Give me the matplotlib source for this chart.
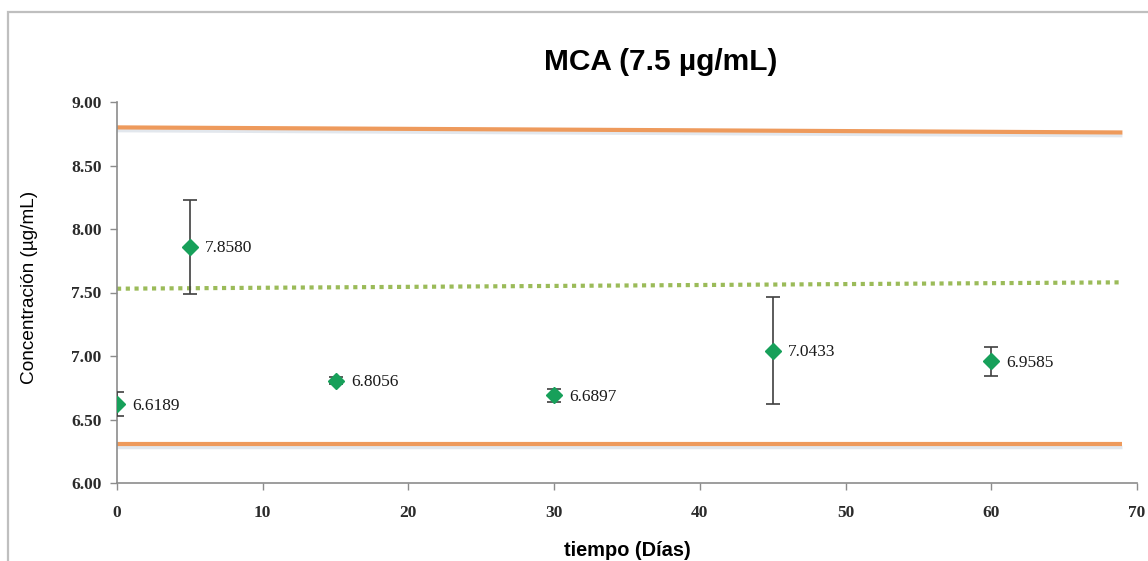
import numpy as np
import matplotlib
matplotlib.use("Agg")
from matplotlib import pyplot as plt
from matplotlib.patches import Rectangle

# days and mean concentration with std-dev
dias = [0, 5, 15, 30, 45, 60]
conc = [6.6189, 7.8580, 6.8056, 6.6897, 7.0433, 6.9585]
desv = [0.095, 0.37, 0.03, 0.05, 0.42, 0.115]

# control limits and trend line (start/end)
lim_x = [0, 69]
lim_sup = [8.80, 8.76]
lim_inf = [6.31, 6.31]
tendencia = [7.53, 7.58]

yticks = [6.00, 6.50, 7.00, 7.50, 8.00, 8.50, 9.00]
xticks = [0, 10, 20, 30, 40, 50, 60, 70]

fig = plt.figure(figsize=(11.48, 5.61), dpi=100)
ax = fig.add_axes([117/1148, 1-483/561, 1020/1148, 381/561])

fig.patches.append(Rectangle((8/1148, -0.1), 1.2, 1 - 12/561 + 0.1,
                             transform=fig.transFigure, fill=False,
                             edgecolor='#bfbfbf', lw=1.6, zorder=0))

naranja = '#ee9a5c'
for ys in (lim_sup, lim_inf):
    # faint shadow under the limit lines
    ax.plot(lim_x, [v - 0.025 for v in ys], color='#d7dde6', lw=2.5,
            alpha=0.7, solid_capstyle='butt', zorder=1)
    ax.plot(lim_x, ys, color=naranja, lw=3, solid_capstyle='butt', zorder=2)

ax.plot(lim_x, tendencia, color='#9bbb59', lw=3, linestyle=(0, (1, 1.1)),
        dash_capstyle='butt', zorder=2)

ax.errorbar(dias, conc, yerr=desv, fmt='D', color='#17a05a', ms=8,
            ecolor='#404040', elinewidth=1.2, capsize=5, capthick=1.2,
            markeredgecolor='#17a05a', zorder=3)

for x, y in zip(dias, conc):
    ax.annotate(f'{y:.4f}', (x, y), xytext=(11, -1), textcoords='offset points',
                va='center', ha='left', fontsize=12.5, family='Liberation Serif',
                color='#1a1a1a')

ax.set_xlim(0, 70)
ax.set_ylim(6.0, 9.0)
ax.set_yticks(yticks)
ax.set_yticklabels([f'{v:.2f}' for v in yticks])
ax.set_xticks(xticks)
for lab in ax.get_xticklabels() + ax.get_yticklabels():
    lab.set_family('Liberation Serif')
    lab.set_fontsize(12.5)
    lab.set_fontweight('bold')
    lab.set_color('#2b2b2b')

for s in ('top', 'right'):
    ax.spines[s].set_visible(False)
for s in ('left', 'bottom'):
    ax.spines[s].set_color('#8c8c8c')
    ax.spines[s].set_linewidth(1.2)
ax.tick_params(direction='out', length=5, width=1, color='#8c8c8c')
ax.tick_params(axis='x', pad=11)
ax.tick_params(axis='y', pad=6)

fig.text(661/1148, 1-62/561, 'MCA (7.5 µg/mL)', ha='center', va='center',
         fontsize=21.5, fontweight='bold', family='Liberation Sans')
fig.text(627/1148, 1-550/561, 'tiempo (Días)', ha='center', va='center',
         fontsize=14.4, fontweight='bold', family='Liberation Sans')
fig.text(30/1148, 1-287/561, 'Concentración (µg/mL)', ha='center', va='center',
         rotation=90, fontsize=13.7, family='Liberation Sans')

fig.savefig('out.png', dpi=100)
